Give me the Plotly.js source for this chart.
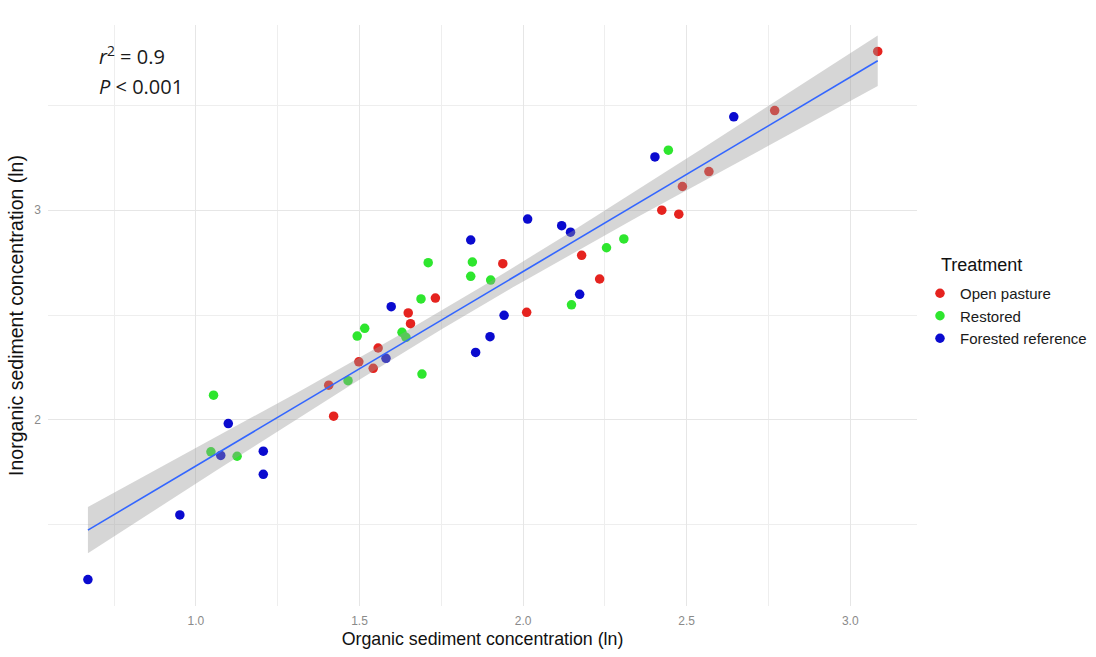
<!DOCTYPE html>
<html><head><meta charset="utf-8">
<script src="https://cdn.plot.ly/plotly-3.0.1.min.js"></script>
<style>html,body{margin:0;padding:0;background:#fff}</style>
</head><body><div id="chart" style="width:1096px;height:657px"></div>
<script>
// Open pasture
const pastureX = [1.406,1.421,1.498,1.542,1.557,1.649,1.656,1.732,1.938,2.011,2.179,2.234,2.424,2.476,2.487,2.568,2.769,3.084];
const pastureY = [2.166,2.018,2.277,2.246,2.343,2.510,2.459,2.581,2.745,2.513,2.785,2.672,3.000,2.981,3.113,3.184,3.475,3.757];
// Restored
const restoredX = [1.046,1.054,1.126,1.465,1.493,1.516,1.630,1.642,1.688,1.691,1.710,1.840,1.845,1.901,2.148,2.255,2.308,2.444];
const restoredY = [1.848,2.118,1.827,2.187,2.400,2.437,2.418,2.394,2.577,2.219,2.750,2.685,2.753,2.667,2.549,2.821,2.863,3.286];
// Forested reference
const forestX = [0.670,0.951,1.076,1.099,1.206,1.206,1.581,1.597,1.840,1.855,1.899,1.942,2.014,2.118,2.145,2.173,2.403,2.644];
const forestY = [1.239,1.547,1.831,1.983,1.851,1.741,2.294,2.540,2.858,2.322,2.397,2.499,2.958,2.926,2.895,2.599,3.254,3.445];

const groupNames = ["Open pasture","Restored","Forested reference"];
const groupColors = ["#E5231F","#2EE62E","#0A0ACF"];
const xTickVals = [1.0,1.5,2.0,2.5,3.0];
const xTickText = ["1.0","1.5","2.0","2.5","3.0"];
const yTickVals = [2,3];
const yTickText = ["2","3"];

// linear model fit (like geom_smooth(method = "lm")) computed from all data
const allX = pastureX.concat(restoredX, forestX);
const allY = pastureY.concat(restoredY, forestY);
const n = allX.length;
const mx = allX.reduce((a,b)=>a+b,0)/n;
const my = allY.reduce((a,b)=>a+b,0)/n;
let sxx=0, sxy=0;
for (let i=0;i<n;i++){ sxx+=(allX[i]-mx)**2; sxy+=(allX[i]-mx)*(allY[i]-my); }
const slope = sxy/sxx, icpt = my - slope*mx;
let sse=0;
for (let i=0;i<n;i++){ sse += (allY[i]-icpt-slope*allX[i])**2; }
const sigma = Math.sqrt(sse/(n-2));
const tcrit = 2.0066;
const xmin = Math.min(...allX), xmax = Math.max(...allX);
const fx=[], fy=[], lo=[], hi=[];
for (let k=0;k<=80;k++){
  const x = xmin + (xmax-xmin)*k/80;
  const yh = icpt + slope*x;
  const se = sigma*Math.sqrt(1/n + (x-mx)**2/sxx);
  fx.push(x); fy.push(yh); lo.push(yh - tcrit*se); hi.push(yh + tcrit*se);
}

const sets = [[pastureX,pastureY],[restoredX,restoredY],[forestX,forestY]];
const traces = sets.map((s,i)=>({
  type:'scatter', mode:'markers', x:s[0], y:s[1], name:groupNames[i],
  marker:{color:groupColors[i], size:9.5, line:{width:0}}
}));
traces.push({type:'scatter', mode:'lines', x:fx.concat(fx.slice().reverse()),
  y:hi.concat(lo.slice().reverse()), fill:'toself', fillcolor:'rgba(153,153,153,0.4)',
  line:{width:0}, showlegend:false, hoverinfo:'skip'});
traces.push({type:'scatter', mode:'lines', x:fx, y:fy, line:{color:'#3366FF', width:1.6},
  showlegend:false});

const tickFont = {family:'Liberation Sans, Arial, sans-serif', size:12, color:'#8a8a8a'};
const layout = {
  width:1096, height:657,
  margin:{l:48, r:179, t:25, b:51},
  paper_bgcolor:'#fff', plot_bgcolor:'#fff',
  showlegend:true,
  xaxis:{range:[0.548,3.204], tickvals:xTickVals, ticktext:xTickText, showline:false, zeroline:false,
    gridcolor:'#e6e6e6', gridwidth:1, ticks:'', tickfont:tickFont, ticklabelstandoff:6,
    minor:{dtick:0.25, tick0:0.75, showgrid:true, gridcolor:'#eeeeee', gridwidth:1},
    title:{text:'Organic sediment concentration (ln)', standoff:5,
      font:{family:'Liberation Sans, Arial, sans-serif', size:17.8, color:'#111'}}},
  yaxis:{range:[1.113,3.883], tickvals:yTickVals, ticktext:yTickText, showline:false, zeroline:false,
    gridcolor:'#e6e6e6', gridwidth:1, ticks:'', tickfont:tickFont, ticklabelstandoff:6,
    minor:{dtick:0.5, tick0:1.5, showgrid:true, gridcolor:'#eeeeee', gridwidth:1},
    title:{text:'Inorganic sediment concentration (ln)', standoff:5,
      font:{family:'Liberation Sans, Arial, sans-serif', size:19.5, color:'#111'}}},
  legend:{xref:'container', yref:'container', x:0.8394, xanchor:'left', y:0.5784, yanchor:'top',
    font:{family:'Liberation Sans, Arial, sans-serif', size:15, color:'#1a1a1a'}},
  annotations:[
    {xref:'paper', yref:'paper', x:1.025, y:0.587, xanchor:'left', yanchor:'middle', showarrow:false,
     text:'Treatment', font:{family:'Liberation Sans, Arial, sans-serif', size:18, color:'#111'}},
    {xref:'paper', yref:'paper', x:0.056, y:0.948, xanchor:'left', yanchor:'middle', showarrow:false,
     text:'<i>r</i><sup>2</sup> = 0.9', font:{family:'Open Sans, sans-serif', size:20, color:'#1a1a1a'}},
    {xref:'paper', yref:'paper', x:0.056, y:0.895, xanchor:'left', yanchor:'middle', showarrow:false,
     text:'<i>P</i> < 0.001', font:{family:'Open Sans, sans-serif', size:20, color:'#1a1a1a'}}
  ]
};
Plotly.newPlot('chart', traces, layout, {displayModeBar:false, staticPlot:true});
</script></body></html>
